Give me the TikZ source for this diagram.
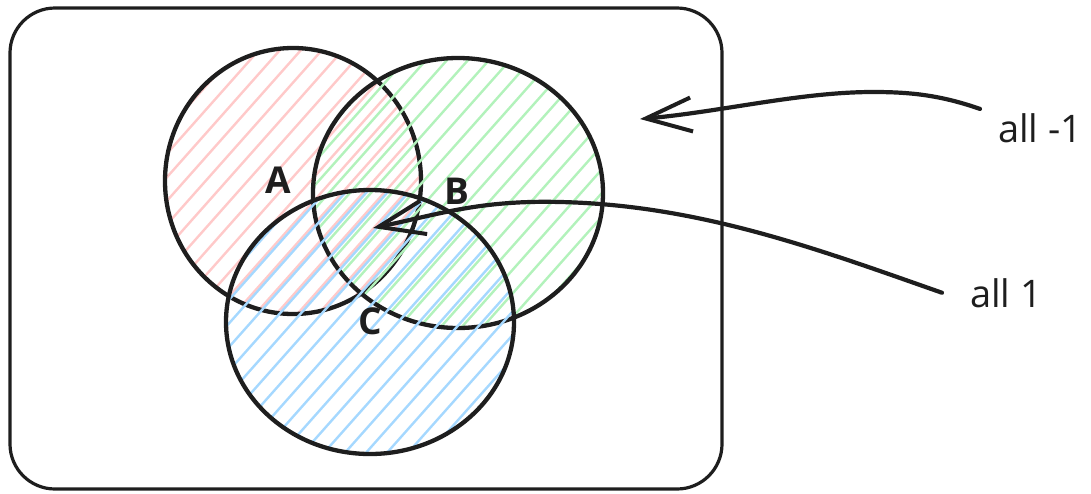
\documentclass[tikz,border=0pt]{standalone}
\usepackage{fontspec}
\setmainfont{Open Sans}
\usetikzlibrary{arrows.meta}
\definecolor{ink}{HTML}{1E1E1E}
\definecolor{hred}{HTML}{FFC9C9}
\definecolor{hgreen}{HTML}{B2F2BB}
\definecolor{hblue}{HTML}{A5D8FF}
\begin{document}
\begin{tikzpicture}[x=1pt,y=-1pt,
  outline/.style={draw=ink, line width=4.3pt},
  frame/.style={draw=ink, line width=3.2pt, rounded corners=45pt},
  hatch/.style={line width=2.4pt},
  lbl/.style={font=\fontsize{37}{37}\selectfont\bfseries, text=ink, inner sep=0pt},
  note/.style={font=\fontsize{38}{38}\selectfont, text=ink, inner sep=0pt},
  conn/.style={draw=ink, line width=4.2pt, line cap=round, line join=round,
    -{Straight Barb[length=46pt,width=34pt,line width=4pt]}}]
\useasboundingbox (0,0) rectangle (1091,493);

% frame
\draw[frame] (10,8) rectangle (722,489);

% circle A
\begin{scope}
  \clip (293,181) ellipse [x radius=128, y radius=133];
  \foreach \k in {-40,...,40} \draw[hred,hatch] (\k*21+300, 500) -- ++(480,-540);
\end{scope}
\draw[outline] (293,181) ellipse [x radius=128, y radius=133];

% circle B
\begin{scope}
  \clip (458,193) ellipse [x radius=145, y radius=135];
  \foreach \k in {-40,...,40} \draw[hgreen,hatch] (\k*21+308, 500) -- ++(480,-540);
\end{scope}
\draw[outline] (458,193) ellipse [x radius=145, y radius=135];

% circle C
\begin{scope}
  \clip (370,322) ellipse [x radius=144, y radius=132];
  \foreach \k in {-40,...,40} \draw[hblue,hatch] (\k*21+303, 500) -- ++(480,-540);
\end{scope}
\draw[outline] (370,322) ellipse [x radius=144, y radius=132];

% labels
\node[lbl] (la) at (278,180) {A};
\node[lbl] (lb) at (457,191) {B};
\node[lbl] (lc) at (370,321) {C};

% notes
\node[note, anchor=base west] (lm1) at (998,142) {all -1};
\node[note, anchor=base west] (l1) at (970,307) {all 1};

\coordinate (t1) at (640,119);
\coordinate (t2) at (373,228);

\draw[conn] ([xshift=-18pt,yshift=4pt]lm1.north west)
  .. controls (940,95) and (910,92) .. (873,92)
  .. controls (800,92) and (720,112) .. (t1);
\draw[conn] ([xshift=-28pt]l1.west)
  .. controls (820,250) and (700,205) .. (560,202)
  .. controls (480,200) and (440,214) .. (t2);
\end{tikzpicture}
\end{document}
